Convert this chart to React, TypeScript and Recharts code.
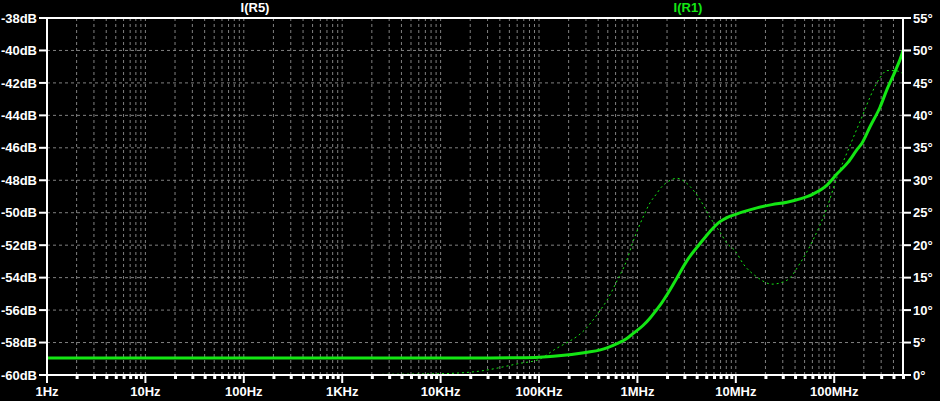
import { CartesianGrid, Line, LineChart, ReferenceLine, XAxis, YAxis } from 'recharts';

// frequencies (Hz)
const freqHz = [
  1, 10, 100, 1e3, 2.8e3, 1e4, 2.5e4, 6.4e4, 1e5, 1.4e5, 3.1e5, 4.2e5, 4.9e5, 6.2e5, 7.8e5, 9.0e5,
  1.14e6, 1.34e6, 1.58e6, 1.7e6, 2.0e6, 2.53e6, 3.19e6, 4.33e6, 5.47e6, 6.9e6, 8.15e6, 1e7, 1.18e7,
  1.64e7, 2.33e7, 3.31e7, 4.49e7, 6.09e7, 8.45e7, 1.07e8, 1.38e8, 1.71e8, 1.92e8, 2.31e8, 2.92e8,
  3.44e8, 4.15e8, 4.89e8, 5e8,
];
// I(R1) magnitude, dB (solid)
const magDb = [
  -58.95, -58.95, -58.95, -58.95, -58.95, -58.95, -58.95, -58.93, -58.9, -58.85, -58.6, -58.45, -58.33,
  -58.07, -57.75, -57.45, -56.95, -56.5, -55.95, -55.7, -55.05, -54.0, -52.95, -51.9, -51.15, -50.55,
  -50.3, -50.1, -49.95, -49.7, -49.5, -49.35, -49.15, -48.85, -48.3, -47.6, -46.9, -46.1, -45.7, -44.7,
  -43.5, -42.4, -41.3, -40.2, -40.0,
];
// I(R1) phase, degrees (dotted)
const phaseDeg = [
  0, 0, 0, 0, 0.1, 0.2, 0.6, 1.8, 2.4, 3.8, 7.4, 10, 11.5, 14.5, 17.7, 20.5, 24.3, 26.5, 28, 28.7, 29.7,
  30.3, 29.5, 27, 24.3, 22, 20.3, 19, 17.2, 15.1, 14, 14.6, 17.2, 20.8, 25.8, 30.5, 34.6, 38, 39.8, 42.8,
  45.8, 46.9, 46.9, 46.5, 46.4,
];
// I(R5) trace, pinned at the bottom of the scale
const r5Db = [-60, -60, -60, -60, -60];

const decadeLabels = ['1Hz', '10Hz', '100Hz', '1KHz', '10KHz', '100KHz', '1MHz', '10MHz', '100MHz'];
const dbTicks = [-60, -58, -56, -54, -52, -50, -48, -46, -44, -42, -40, -38];
const degTicks = [0, 5, 10, 15, 20, 25, 30, 35, 40, 45, 50, 55];

const data = freqHz.map((f, i) => ({
  f,
  mag: magDb[i],
  phase: phaseDeg[i],
  r5: i < r5Db.length ? r5Db[i] : null,
}));

const xTicks: number[] = [];
for (let d = 0; d <= 8; d++) {
  for (let m = 1; m <= 9; m++) {
    const v = m * Math.pow(10, d);
    if (v <= 5e8) xTicks.push(v);
  }
}

const GREEN = '#14e614';
const FONT = 'Liberation Sans, Arial, sans-serif';

const FreqTick = (props: any) => {
  const { x, y, payload } = props;
  const v = payload.value;
  const exp = Math.round(Math.log10(v));
  const isDecade = Math.abs(v - Math.pow(10, exp)) < 1e-6 * v;
  return (
    <g>
      {isDecade ? (
        <rect x={x - 1} y={y} width={2} height={8} fill="#fff" />
      ) : (
        <rect x={x - 1} y={y} width={3} height={4} fill="#fff" />
      )}
      {isDecade && (
        <text
          x={x}
          y={y + 21}
          textAnchor="middle"
          fill="#fff"
          fontSize={13}
          fontWeight="bold"
          fontFamily={FONT}
        >
          {decadeLabels[exp]}
        </text>
      )}
    </g>
  );
};

const tickStyle = { fill: '#fff', fontSize: 13, fontWeight: 'bold', fontFamily: FONT };

export default function App() {
  return (
    <div style={{ position: 'absolute', left: 0, top: 0, width: 940, height: 401, background: '#000' }}>
      <div
        style={{
          position: 'absolute',
          left: 215,
          top: 0,
          width: 80,
          textAlign: 'center',
          color: '#fff',
          font: `bold 13px ${FONT}`,
        }}
      >
        I(R5)
      </div>
      <div
        style={{
          position: 'absolute',
          left: 648,
          top: 0,
          width: 80,
          textAlign: 'center',
          color: GREEN,
          font: `bold 13px ${FONT}`,
        }}
      >
        I(R1)
      </div>
      <LineChart width={940} height={401} data={data} margin={{ top: 18, right: 0, bottom: 0, left: 0 }}>
        <CartesianGrid
          yAxisId="db"
          stroke="#808080"
          strokeDasharray="3 3"
          strokeWidth={1}
        />
        <XAxis
          dataKey="f"
          type="number"
          scale="log"
          domain={[1, 5e8]}
          allowDataOverflow
          ticks={xTicks}
          interval={0}
          height={26}
          tickSize={0}
          tickMargin={0}
          tick={<FreqTick />}
          axisLine={{ stroke: '#fff', strokeWidth: 2 }}
          tickLine={false}
        />
        <YAxis
          yAxisId="db"
          orientation="left"
          domain={[-60, -38]}
          ticks={dbTicks}
          interval={0}
          width={47}
          tickSize={8}
          tickMargin={2}
          tick={tickStyle}
          tickFormatter={(v: number) => `${v}dB`}
          axisLine={{ stroke: '#fff', strokeWidth: 2 }}
          tickLine={{ stroke: '#fff', strokeWidth: 2 }}
        />
        <YAxis
          yAxisId="deg"
          orientation="right"
          domain={[0, 55]}
          ticks={degTicks}
          interval={0}
          width={37}
          tickSize={8}
          tickMargin={2}
          tick={{ ...tickStyle, textAnchor: 'start' }}
          tickFormatter={(v: number) => `${v}°`}
          axisLine={{ stroke: '#fff', strokeWidth: 2 }}
          tickLine={{ stroke: '#fff', strokeWidth: 2 }}
        />
        <ReferenceLine yAxisId="db" y={-38} stroke="#fff" strokeWidth={2} />
        <Line
          yAxisId="db"
          dataKey="r5"
          type="linear"
          stroke="#ffffff"
          strokeWidth={1}
          dot={false}
          isAnimationActive={false}
        />
        <Line
          yAxisId="deg"
          dataKey="phase"
          type="monotone"
          stroke={GREEN}
          strokeWidth={1}
          strokeDasharray="2 3"
          dot={false}
          isAnimationActive={false}
        />
        <Line
          yAxisId="db"
          dataKey="mag"
          type="monotone"
          stroke={GREEN}
          strokeWidth={3}
          dot={false}
          isAnimationActive={false}
        />
      </LineChart>
    </div>
  );
}
